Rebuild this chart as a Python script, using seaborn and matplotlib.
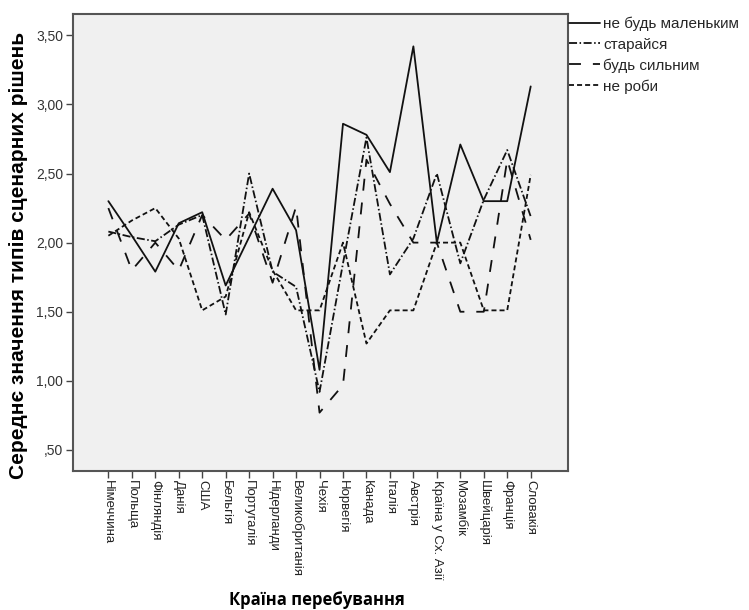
import matplotlib
matplotlib.use("Agg")
import matplotlib.pyplot as plt
import pandas as pd
import seaborn as sns

countries = ["Німеччина", "Польща", "Фінляндія", "Данія", "США", "Бельгія",
             "Португалія", "Нідерланди", "Великобританія", "Чехія", "Норвегія",
             "Канада", "Італія", "Австрія", "Країна у Сх. Азії", "Мозамбік",
             "Швейцарія", "Франція", "Словакія"]

ne_bud_malenkym = [2.30, 2.05, 1.79, 2.14, 2.22, 1.69, 2.04, 2.39, 2.09, 1.08,
                   2.86, 2.78, 2.51, 3.42, 2.00, 2.71, 2.30, 2.30, 3.13]
staraisia = [2.08, 2.04, 2.01, 2.13, 2.20, 1.48, 2.50, 1.79, 1.68, 0.92,
             1.85, 2.76, 1.77, 2.03, 2.50, 1.85, 2.31, 2.67, 2.19]
bud_sylnym = [2.25, 1.80, 2.00, 1.80, 2.20, 2.02, 2.21, 1.71, 2.26, 0.77,
              0.97, 2.60, 2.28, 2.00, 2.00, 1.50, 1.50, 2.60, 2.02]
ne_robi = [2.05, 2.16, 2.25, 2.03, 1.51, 1.61, 2.22, 1.80, 1.51, 1.51,
           2.00, 1.27, 1.51, 1.51, 2.00, 2.00, 1.51, 1.51, 2.49]

series_names = ["не будь маленьким", "старайся", "будь сильним", "не роби"]
series_values = [ne_bud_malenkym, staraisia, bud_sylnym, ne_robi]

y_ticks = [0.5, 1.0, 1.5, 2.0, 2.5, 3.0, 3.5]
y_tick_labels = [",50", "1,00", "1,50", "2,00", "2,50", "3,00", "3,50"]

rows = []
for name, vals in zip(series_names, series_values):
    for c, v in zip(countries, vals):
        rows.append({"Країна": c, "value": v, "series": name})
df = pd.DataFrame(rows)

sns.set_theme(style="white")
plt.rcParams["font.family"] = ["Liberation Sans", "DejaVu Sans"]
plt.rcParams["lines.scale_dashes"] = False

fig = plt.figure(figsize=(7.49, 6.10), dpi=100)
fig.patch.set_facecolor("white")
ax = fig.add_axes([72.7 / 749, 1 - 470.7 / 610, (568 - 72.7) / 749, (470.7 - 14) / 610])
ax.set_facecolor("#F0F0F0")

dashes = {
    "не будь маленьким": "",
    "старайся": (5.8, 1.8, 1.1, 1.8),
    "будь сильним": (8.6, 8.6),
    "не роби": (3.6, 2.2),
}
sns.lineplot(data=df, x="Країна", y="value", hue="series", style="series",
             palette=["#111111"] * 4, dashes=dashes, sort=False,
             linewidth=1.3, ax=ax, legend=True)

ax.set_xlim(-1.52, 19.59)
ax.set_ylim(0.35, 3.654)
ax.set_yticks(y_ticks)
ax.set_yticklabels(y_tick_labels, fontsize=10, color="#333333")
ax.set_xticks(range(len(countries)))
ax.set_xticklabels(countries, rotation=-90, fontsize=9.5, color="#222222",
                   va="top", ha="center")
ax.tick_params(axis="both", which="both", length=5, width=1, color="#444444",
               direction="out", left=True, bottom=True, pad=2)
ax.set_xlabel("")
ax.set_ylabel("")
for sp in ax.spines.values():
    sp.set_visible(True)
    sp.set_color("#555555")
    sp.set_linewidth(1.5)

leg = ax.get_legend()
handles = leg.legend_handles if hasattr(leg, "legend_handles") else leg.legendHandles
leg.remove()
fig.legend(handles, series_names, loc="upper left",
           bbox_to_anchor=(569 / 749, 1 - 17 / 610), frameon=False,
           fontsize=11, handlelength=2.0, handletextpad=0.25,
           labelspacing=0.42, borderpad=0, borderaxespad=0)

fig.text(18.5 / 749, 1 - 255 / 610, "Середнє значення типів сценарних рішень",
         rotation=90, ha="center", va="center", fontsize=15,
         fontweight="bold", color="black")
fig.text(317 / 749, 1 - 600 / 610, "Країна перебування", ha="center",
         va="center", fontsize=12, fontweight="bold", color="black",
         family=["Open Sans", "DejaVu Sans"])

fig.savefig("out.png", dpi=100, facecolor="white")
